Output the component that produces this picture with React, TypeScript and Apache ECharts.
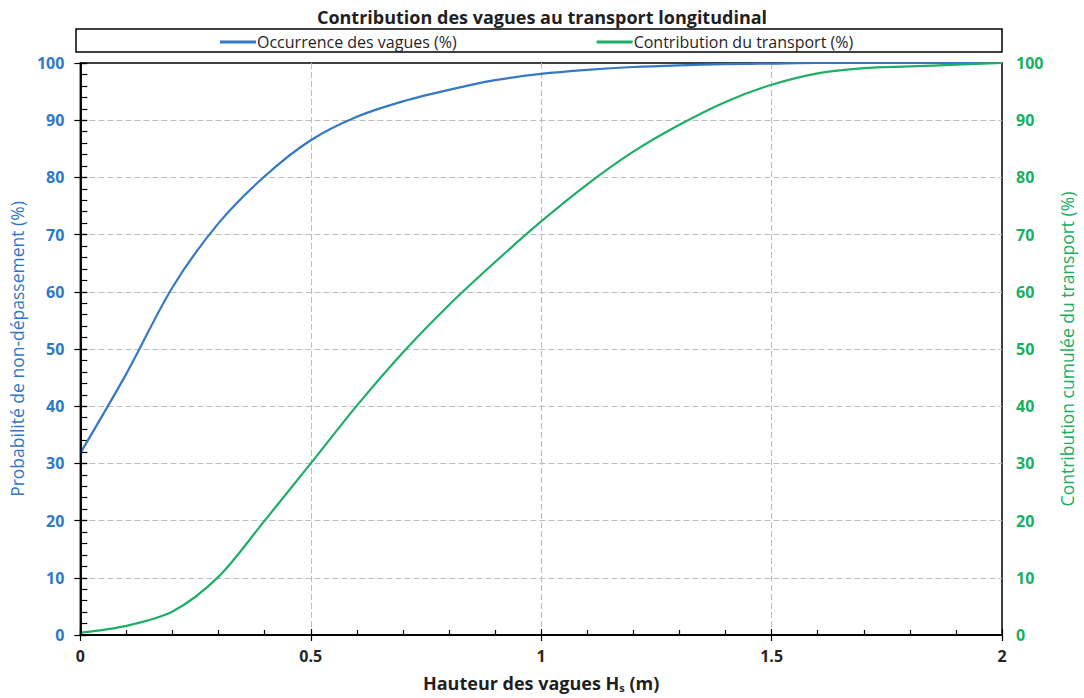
import React, { useEffect, useRef } from "react";
import * as echarts from "echarts";

const hauteurs = [0, 0.1, 0.2, 0.3, 0.4, 0.5, 0.6, 0.7, 0.8, 0.9, 1.0, 1.1, 1.2, 1.3, 1.4, 1.5, 1.6, 1.7, 1.8, 1.9, 2.0];
const occurrence = [31.8, 45.7, 60.8, 72, 80.2, 86.5, 90.6, 93.3, 95.3, 97, 98.1, 98.8, 99.3, 99.6, 99.8, 99.9, 100, 100, 100, 100, 100];
const contribution = [0.4, 1.6, 4.1, 10.2, 20, 30, 40.1, 49.4, 57.7, 65.2, 72.3, 78.8, 84.5, 89.2, 93.2, 96.2, 98.2, 99.1, 99.4, 99.7, 100];

const title = "Contribution des vagues au transport longitudinal";
const seriesNames = ["Occurrence des vagues (%)", "Contribution du transport (%)"];
const leftName = "Probabilité de non-dépassement (%)";
const rightName = "Contribution cumulée du transport (%)";

const BLUE = "#3478c6";
const GREEN = "#1fae68";
const BLUE_TXT = "#2e78c8";
const GREEN_TXT = "#16b060";
const FONT = "'Open Sans', 'Noto Sans', sans-serif";

export default function App() {
  const ref = useRef<HTMLDivElement>(null);
  useEffect(() => {
    if (!ref.current) return;
    const chart = echarts.init(ref.current, null, { renderer: "svg" });
    const blueData = hauteurs.map((h, i) => [h, occurrence[i]]);
    const greenData = hauteurs.map((h, i) => [h, contribution[i]]);
    const split = {
      show: true,
      showMinLine: false,
      showMaxLine: false,
      lineStyle: { color: "#bdbdbd", type: [6, 3], width: 1 },
    };
    chart.setOption({
      animation: false,
      backgroundColor: "#ffffff",
      textStyle: { fontFamily: FONT },
      title: {
        text: title,
        left: "center",
        top: 3,
        textStyle: { fontFamily: FONT, fontSize: 18, fontWeight: "bold", color: "#1f1f1f" },
      },
      graphic: [
        {
          type: "rect",
          shape: { x: 76, y: 29, width: 926, height: 23 },
          style: { fill: "none", stroke: "#000", lineWidth: 1.5 },
          silent: true,
        },
      ],
      legend: {
        top: 29,
        left: 215,
        itemGap: 140,
        icon: "rect",
        itemWidth: 36,
        itemHeight: 3,
        textStyle: { fontFamily: FONT, fontSize: 16, color: "#1f1f1f", padding: [0, 0, 0, -4] },
        data: seriesNames,
      },
      grid: {
        left: 79,
        right: 82,
        top: 63,
        bottom: 63,
        show: true,
        borderColor: "#000",
        borderWidth: 1.5,
        containLabel: false,
      },
      xAxis: [
        {
          type: "value",
          min: 0,
          max: 2,
          interval: 0.5,
          position: "bottom",
          axisLine: { show: true, lineStyle: { color: "#000", width: 1.5 } },
          axisTick: { show: true, inside: true, length: 6, lineStyle: { color: "#000", width: 1.2 } },
          minorTick: { show: true, splitNumber: 5, length: 5, lineStyle: { color: "#000", width: 1.2 } },
          splitLine: split,
          axisLabel: { fontFamily: FONT, fontSize: 16, fontWeight: "bold", color: "#262626", margin: 13 },
          name: "{a|Hauteur des vagues H}{s|s}{a| (m)}",
          nameLocation: "middle",
          nameGap: 38,
          nameTextStyle: {
            rich: {
              a: { fontFamily: FONT, fontSize: 18, fontWeight: "bold", color: "#1f1f1f" },
              s: { fontFamily: FONT, fontSize: 11, fontWeight: "bold", color: "#1f1f1f", padding: [9, 0, 0, 0] },
            },
          },
        },
        {
          type: "value",
          min: 0,
          max: 2,
          interval: 0.5,
          position: "bottom",
          axisLine: { show: false },
          axisTick: { show: true, inside: false, length: 6, lineStyle: { color: "#000", width: 1.2 } },
          axisLabel: { show: false },
          splitLine: { show: false },
        },
        {
          type: "value",
          min: 0,
          max: 2,
          interval: 0.5,
          position: "top",
          z: 5,
          axisLine: { show: true, lineStyle: { color: "#000", width: 1.5 } },
          axisTick: { show: false },
          axisLabel: { show: false },
          splitLine: { show: false },
        },
      ],
      yAxis: [
        {
          type: "value",
          min: 0,
          max: 100,
          interval: 10,
          position: "left",
          axisLine: { show: true, lineStyle: { color: "#000", width: 1.5 } },
          axisTick: { show: true, inside: true, length: 7, lineStyle: { color: "#000", width: 1.2 } },
          minorTick: { show: true, splitNumber: 5, length: 7, lineStyle: { color: "#000", width: 1.2 } },
          splitLine: split,
          axisLabel: { fontFamily: FONT, fontSize: 16, fontWeight: "bold", color: BLUE_TXT, margin: 16 },
          name: leftName,
          nameLocation: "middle",
          nameGap: 50,
          nameTextStyle: { fontFamily: FONT, fontSize: 17.5, color: BLUE_TXT },
        },
        {
          type: "value",
          min: 0,
          max: 100,
          interval: 10,
          position: "right",
          z: 5,
          axisLine: { show: true, lineStyle: { color: "#000", width: 1.5 } },
          axisTick: { show: true, inside: false, length: 6, lineStyle: { color: "#000", width: 1.2 } },
          splitLine: { show: false },
          axisLabel: { fontFamily: FONT, fontSize: 16, fontWeight: "bold", color: GREEN_TXT, margin: 14 },
          name: rightName,
          nameLocation: "middle",
          nameGap: 56,
          nameRotate: 90,
          nameTextStyle: { fontFamily: FONT, fontSize: 17.5, color: GREEN_TXT },
        },
        {
          type: "value",
          min: 0,
          max: 100,
          interval: 10,
          position: "left",
          axisLine: { show: false },
          axisTick: { show: true, inside: false, length: 6, lineStyle: { color: "#000", width: 1.2 } },
          axisLabel: { show: false },
          splitLine: { show: false },
        },
      ],
      series: [
        {
          name: seriesNames[0],
          type: "line",
          data: blueData,
          xAxisIndex: 0,
          yAxisIndex: 0,
          smooth: 0.3,
          symbol: "none",
          lineStyle: { color: BLUE, width: 2.2 },
          itemStyle: { color: BLUE },
          z: 3,
        },
        {
          name: seriesNames[1],
          type: "line",
          data: greenData,
          xAxisIndex: 0,
          yAxisIndex: 1,
          smooth: 0.3,
          symbol: "none",
          lineStyle: { color: GREEN, width: 2.2 },
          itemStyle: { color: GREEN },
          z: 4,
        },
      ],
    });
    return () => chart.dispose();
  }, []);
  return (
    <div
      ref={ref}
      style={{ position: "fixed", left: 0, top: 0, width: 1084, height: 698, background: "#fff" }}
    />
  );
}
